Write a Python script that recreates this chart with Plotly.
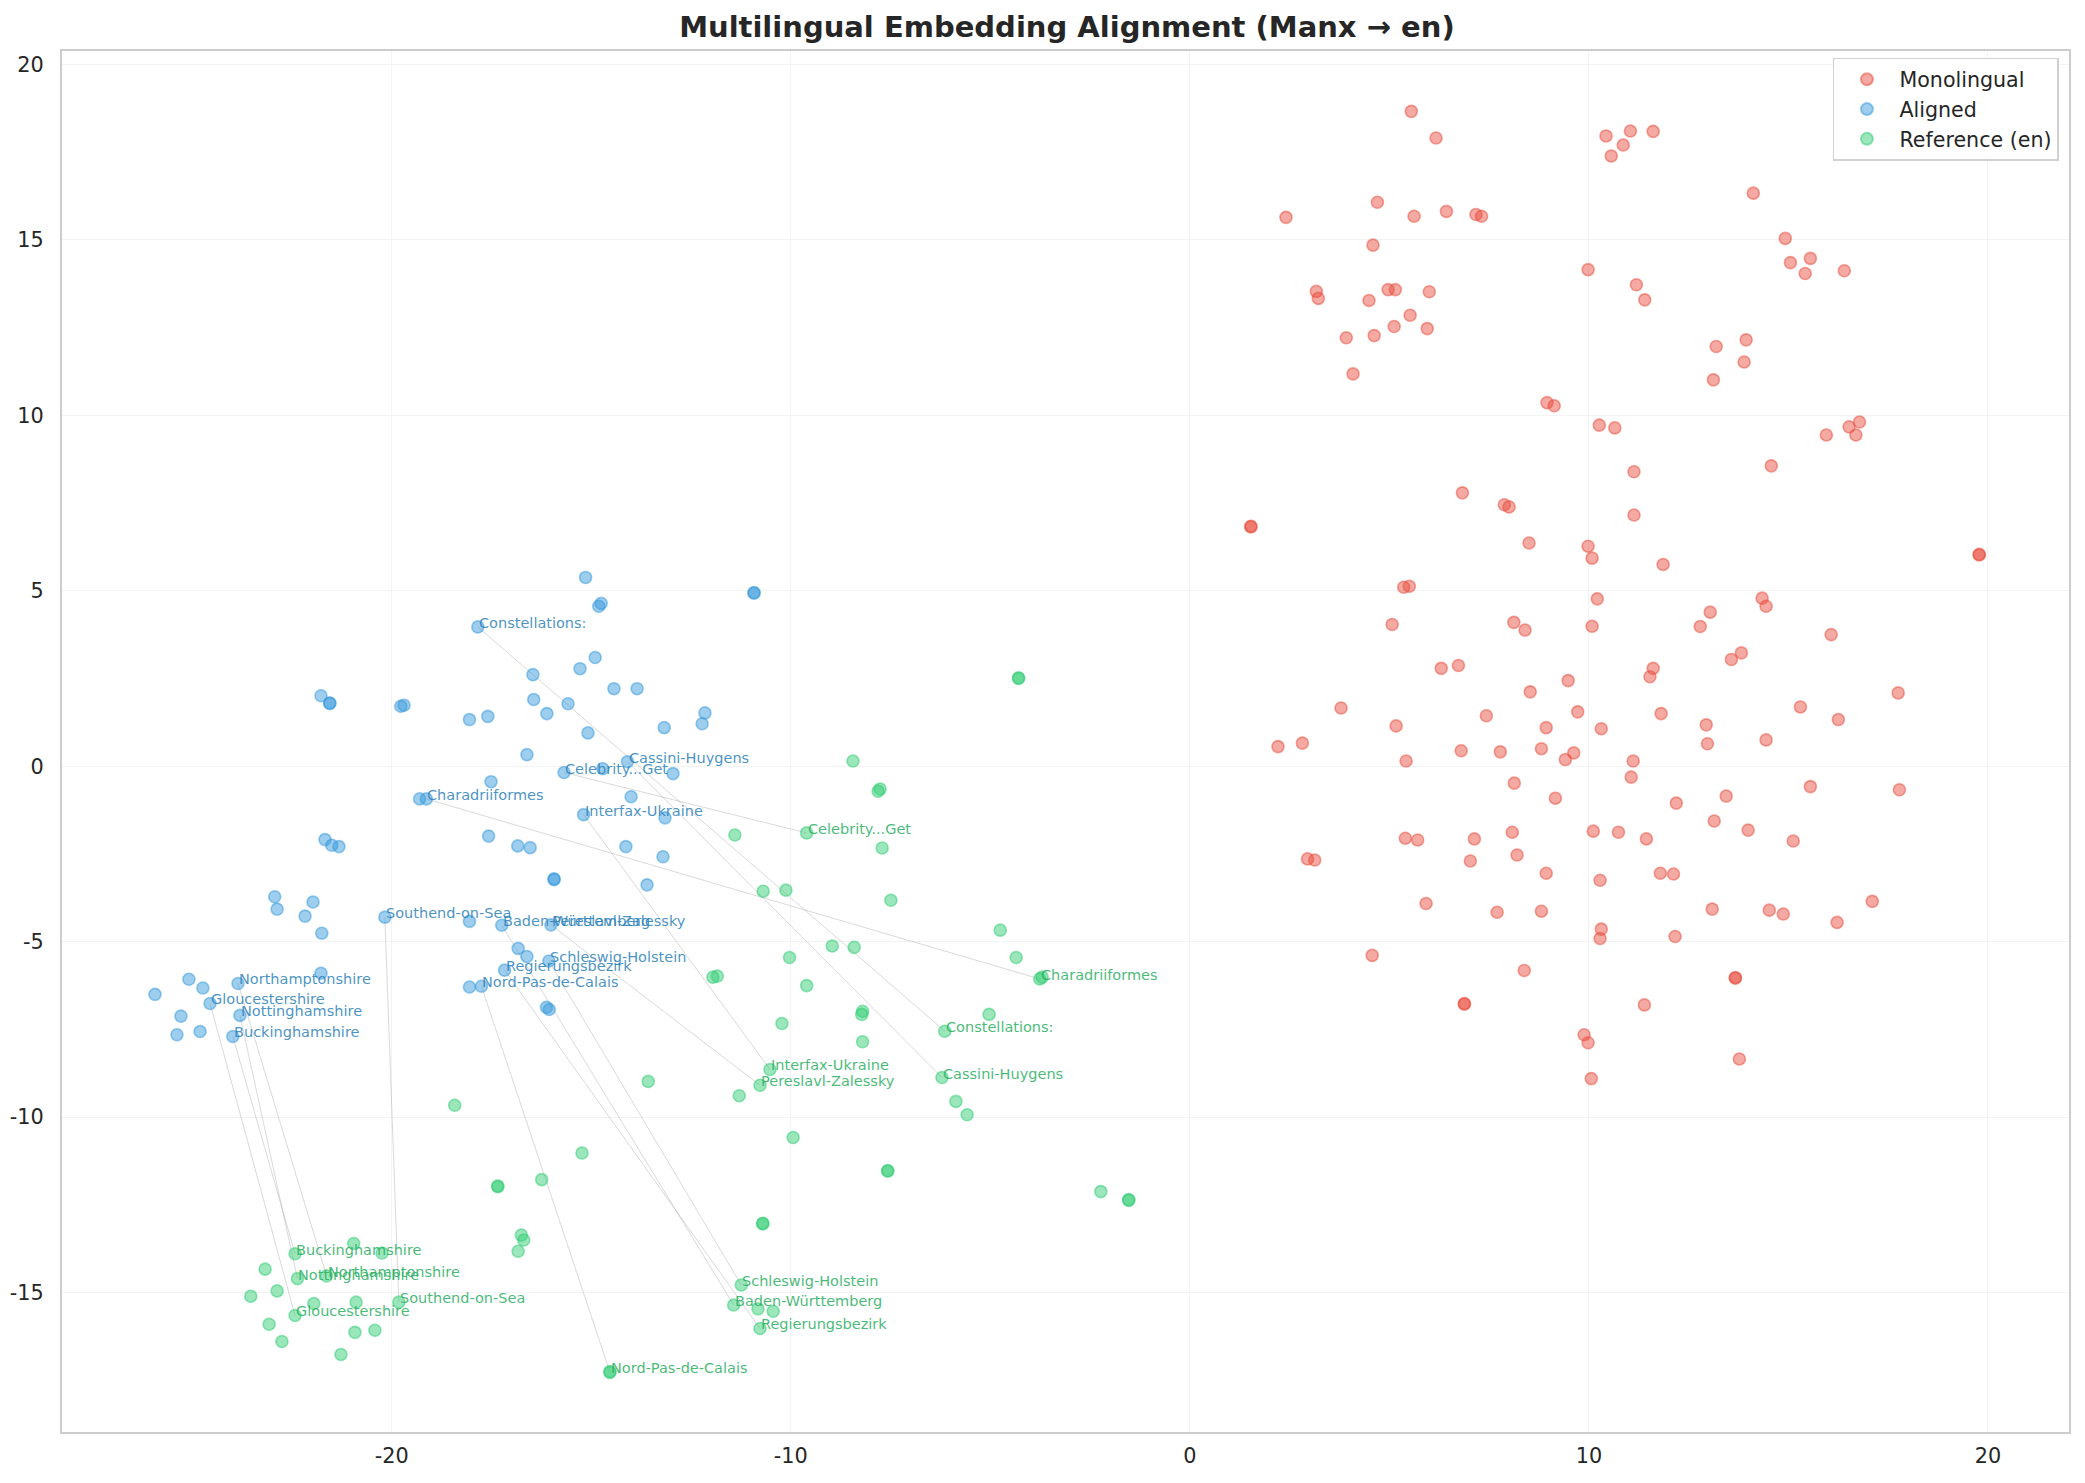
import plotly.graph_objects as go

# ---------------- data ----------------
labels = ["Constellations:", "Charadriiformes", "Cassini-Huygens", "Celebrity...Get",
          "Interfax-Ukraine", "Southend-on-Sea", "Baden-Württemberg", "Pereslavl-Zalessky",
          "Schleswig-Holstein", "Regierungsbezirk", "Nord-Pas-de-Calais", "Northamptonshire",
          "Gloucestershire", "Nottinghamshire", "Buckinghamshire"]

# first 15 entries of aligned_* and ref_* are the labelled pairs (same order as labels)
aligned_x = [-17.84, -19.13, -14.09, -15.68, -15.19, -20.17, -17.24, -16.01, -16.06, -17.17,
             -17.75, -23.85, -24.55, -23.80, -23.98,
             -16.46, -16.44, -21.77, -21.55, -21.55, -19.77, -19.69, -18.05, -17.59, -16.61,
             -17.51, -19.30, -17.57, -16.84, -16.53, -21.67, -21.50, -21.32, -22.93, -22.87,
             -21.97, -22.17, -21.75, -18.05, -16.83, -16.61, -21.77, -25.08, -24.73, -25.93,
             -18.05, -25.28, -25.38, -24.80, -15.14, -10.92, -10.92, -14.75, -14.81, -14.90,
             -15.28, -14.43, -13.85, -15.58, -16.11, -15.08, -13.17, -12.15, -12.22, -14.71,
             -12.95, -14.00, -13.15, -14.13, -13.20, -15.93, -15.93, -13.60, -16.12, -16.05]
aligned_y = [3.97, -0.93, 0.13, -0.18, -1.38, -4.30, -4.53, -4.52, -5.55, -5.81,
             -6.27, -6.19, -6.76, -7.10, -7.70,
             2.61, 1.90, 2.01, 1.80, 1.79, 1.71, 1.74, 1.33, 1.42, 0.33,
             -0.44, -0.93, -1.99, -2.27, -2.32, -2.09, -2.25, -2.29, -3.72, -4.07,
             -3.87, -4.27, -4.76, -4.42, -5.19, -5.42, -5.90, -6.07, -6.32, -6.50,
             -6.29, -7.12, -7.65, -7.56, 5.38, 4.95, 4.93, 4.64, 4.56, 3.10,
             2.78, 2.21, 2.21, 1.78, 1.50, 0.95, 1.10, 1.52, 1.21, -0.07,
             -0.21, -0.87, -1.47, -2.29, -2.58, -3.23, -3.21, -3.38, -6.87, -6.93]

ref_x = [-6.14, -3.76, -6.21, -9.60, -10.52, -19.82, -11.43, -10.77, -11.24, -10.77,
         -14.53, -21.63, -22.42, -22.36, -22.42,
         -8.44, -7.76, -7.81, -11.40, -7.71, -10.69, -10.12, -7.49, -4.75, -4.35,
         -3.70, -8.96, -8.41, -10.03, -11.95, -11.84, -9.60, -8.20, -8.22, -5.03,
         -10.22, -8.20, -11.29, -5.86, -5.58, -9.94, -7.57, -7.57, -2.23, -1.53,
         -1.53, -10.70, -10.70, -10.82, -10.44, -14.53, -17.34, -17.34, -16.24, -16.75,
         -16.69, -16.83, -20.95, -20.24, -23.17, -23.53, -22.87, -21.95, -20.89, -23.07,
         -22.75, -20.92, -20.42, -21.27, -18.42, -15.23, -13.57, -4.29, -4.29]
ref_y = [-7.55, -6.06, -8.87, -1.90, -8.64, -15.27, -15.35, -9.09, -14.78, -16.02,
         -17.27, -14.52, -15.65, -14.60, -13.89,
         0.15, -0.65, -0.71, -1.96, -2.33, -3.56, -3.53, -3.82, -4.67, -5.45,
         -6.01, -5.12, -5.16, -5.45, -6.01, -5.98, -6.25, -6.98, -7.07, -7.07,
         -7.33, -7.85, -9.39, -9.55, -9.93, -10.58, -11.54, -11.52, -12.12, -12.37,
         -12.35, -13.04, -13.02, -15.46, -15.53, -17.25, -11.98, -11.96, -11.78, -13.36,
         -13.50, -13.82, -13.60, -13.87, -14.33, -15.10, -14.95, -15.31, -15.27, -15.90,
         -16.39, -16.13, -16.07, -16.76, -9.66, -11.02, -8.98, 2.50, 2.52]

mono_x = [5.55, 6.17, 10.43, 11.04, 10.86, 10.56, 11.61, 4.70, 2.41, 5.62,
          6.43, 7.17, 7.31, 4.59, 9.98, 11.19, 11.40, 3.17, 3.22, 4.49,
          4.97, 5.15, 6.00, 5.52, 5.12, 5.95, 3.92, 4.62, 4.09, 8.95,
          9.13, 10.26, 10.65, 11.13, 11.13, 6.83, 7.88, 8.00, 8.50, 9.98,
          10.08, 1.53, 1.53, 5.36, 5.50, 10.21, 5.07, 8.12, 8.40, 10.08,
          14.12, 14.92, 15.05, 15.55, 15.42, 16.40, 13.19, 13.94, 13.89, 13.12,
          15.95, 16.52, 16.78, 16.69, 14.57, 11.86, 19.78, 19.78, 14.34, 14.44,
          13.04, 12.79, 16.07, 6.30, 6.73, 9.48, 8.53, 3.79, 9.72, 7.43,
          5.17, 8.93, 10.31, 2.21, 2.82, 5.42, 6.80, 7.78, 8.81, 9.41,
          9.62, 11.11, 11.06, 8.13, 9.16, 5.40, 5.71, 7.13, 8.08, 10.11,
          10.74, 11.44, 7.03, 8.20, 2.95, 3.13, 8.93, 10.28, 5.92, 7.70,
          8.81, 10.31, 10.28, 4.57, 8.38, 6.88, 6.88, 9.88, 9.98, 10.06,
          11.39, 13.82, 13.57, 11.61, 11.53, 17.75, 15.30, 16.25, 11.81, 12.94,
          12.97, 14.44, 15.55, 17.78, 12.19, 13.44, 13.14, 13.99, 15.12, 11.79,
          12.12, 13.09, 14.52, 14.87, 16.22, 17.10, 12.16, 13.67, 13.67, 13.77]
mono_y = [18.66, 17.90, 17.96, 18.10, 17.70, 17.39, 18.09, 16.07, 15.64, 15.67,
          15.81, 15.72, 15.67, 14.85, 14.15, 13.72, 13.29, 13.53, 13.33, 13.27,
          13.58, 13.58, 13.52, 12.85, 12.53, 12.47, 12.21, 12.27, 11.18, 10.36,
          10.27, 9.72, 9.64, 8.39, 7.16, 7.79, 7.45, 7.39, 6.36, 6.27,
          5.93, 6.84, 6.82, 5.10, 5.13, 4.77, 4.04, 4.10, 3.88, 3.99,
          16.33, 15.04, 14.35, 14.47, 14.04, 14.12, 11.96, 12.15, 11.52, 11.01,
          9.44, 9.67, 9.81, 9.44, 8.56, 5.75, 6.04, 6.02, 4.79, 4.56,
          4.39, 3.98, 3.75, 2.79, 2.87, 2.44, 2.12, 1.66, 1.55, 1.44,
          1.15, 1.10, 1.07, 0.56, 0.66, 0.15, 0.44, 0.41, 0.50, 0.19,
          0.38, 0.15, -0.31, -0.48, -0.91, -2.05, -2.10, -2.07, -1.88, -1.85,
          -1.88, -2.07, -2.70, -2.53, -2.64, -2.67, -3.05, -3.25, -3.91, -4.16,
          -4.13, -4.64, -4.91, -5.39, -5.82, -6.78, -6.76, -7.65, -7.88, -8.90,
          -6.80, 3.23, 3.04, 2.79, 2.55, 2.09, 1.69, 1.33, 1.50, 1.18,
          0.64, 0.75, -0.58, -0.67, -1.05, -0.85, -1.56, -1.82, -2.13, -3.05,
          -3.07, -4.07, -4.10, -4.21, -4.45, -3.85, -4.85, -6.04, -6.02, -8.34]

x_ticks = [-20, -10, 0, 10, 20]
x_tick_text = ["-20", "-10", "0", "10", "20"]
y_ticks = [-15, -10, -5, 0, 5, 10, 15, 20]
y_tick_text = ["-15", "-10", "-5", "0", "5", "10", "15", "20"]

# ---------------- styling ----------------
RED, BLUE, GREEN = (231, 76, 60), (52, 152, 219), (46, 204, 113)
FONT = "DejaVu Sans"


def rgba(c, a):
    return f"rgba({c[0]},{c[1]},{c[2]},{a})"


fig = go.Figure()

# connecting lines for labelled pairs
lx, ly = [], []
for i in range(len(labels)):
    lx += [aligned_x[i], ref_x[i], None]
    ly += [aligned_y[i], ref_y[i], None]
fig.add_trace(go.Scatter(x=lx, y=ly, mode="lines", showlegend=False, hoverinfo="skip",
                         line=dict(color="rgba(140,140,140,0.33)", width=1)))

for name, xs, ys, col in [("Monolingual", mono_x, mono_y, RED),
                          ("Aligned", aligned_x, aligned_y, BLUE),
                          ("Reference (en)", ref_x, ref_y, GREEN)]:
    fig.add_trace(go.Scatter(
        x=xs, y=ys, mode="markers", name=name,
        marker=dict(size=12, color=rgba(col, 0.48),
                    line=dict(color=rgba(col, 0.5), width=1.6))))

annots = []
for i, lab in enumerate(labels):
    annots.append(dict(x=aligned_x[i], y=aligned_y[i], text=lab, showarrow=False,
                       xanchor="left", yanchor="bottom", xshift=-1, yshift=-6,
                       font=dict(family=FONT, size=14.5, color="rgba(41,128,185,0.85)")))
    annots.append(dict(x=ref_x[i], y=ref_y[i], text=lab, showarrow=False,
                       xanchor="left", yanchor="bottom", xshift=-1, yshift=-6,
                       font=dict(family=FONT, size=14.5, color="rgba(39,174,96,0.85)")))

axis_common = dict(showgrid=True, gridcolor="#f3f3f3", gridwidth=1.2,
                   zeroline=False, showline=True, linecolor="#cccccc", linewidth=2.2,
                   mirror=True, ticks="", tickfont=dict(family=FONT, size=20.8, color="#262626"),
                   automargin=False)

fig.update_layout(
    width=2085, height=1483,
    template="none",
    paper_bgcolor="white", plot_bgcolor="white",
    margin=dict(l=62, r=16, t=51, b=51),
    font=dict(family=FONT, color="#262626"),
    title=dict(text="<b>Multilingual Embedding Alignment (Manx → en)</b>",
               x=0.5117, xanchor="center", y=1 - 27 / 1483, yanchor="middle",
               yref="container", font=dict(family=FONT, size=29, color="#262626")),
    xaxis=dict(range=[-28.26, 22.03], tickvals=x_ticks, ticktext=x_tick_text,
               ticklabelstandoff=4, **axis_common),
    yaxis=dict(range=[-18.97, 20.38], tickvals=y_ticks, ticktext=y_tick_text,
               ticklabelstandoff=12, **axis_common),
    legend=dict(x=0.995, xanchor="right", y=0.995, yanchor="top",
                bgcolor="rgba(255,255,255,0.85)", bordercolor="#d0d0d0", borderwidth=1.5,
                font=dict(family=FONT, size=20.6, color="#262626"),
                itemsizing="constant", tracegroupgap=0, itemwidth=55),
    annotations=annots,
    showlegend=True,
)

fig.write_html("out.html")
